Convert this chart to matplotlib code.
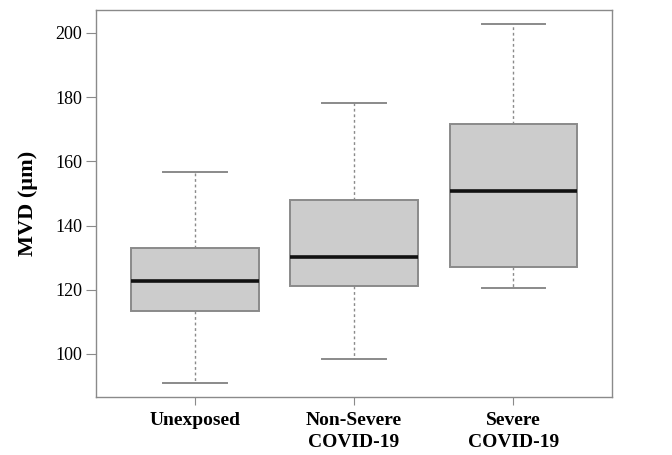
import matplotlib.pyplot as plt

# Box statistics (MVD in um)
groups = ['Unexposed', 'Non-Severe\nCOVID-19', 'Severe\nCOVID-19']
whisker_low = [91.0, 98.3, 120.5]
q1 = [113.4, 121.2, 127.1]
median = [122.6, 130.1, 150.9]
q3 = [132.9, 148.0, 171.7]
whisker_high = [156.6, 178.2, 202.9]
y_ticks = [100, 120, 140, 160, 180, 200]

plt.rcParams['font.family'] = ['Liberation Serif', 'DejaVu Serif']

stats = []
for i in range(len(groups)):
    stats.append({'whislo': whisker_low[i], 'q1': q1[i], 'med': median[i],
                  'q3': q3[i], 'whishi': whisker_high[i], 'fliers': []})

fig = plt.figure(figsize=(6.72, 4.55), dpi=100)
ax = fig.add_axes([0.1429, 0.1275, 0.768, 0.8515])

grey = '#8a8a8a'
ax.bxp(stats, positions=[1, 2, 3], widths=0.8, patch_artist=True,
       showfliers=False,
       boxprops=dict(facecolor='#cccccc', edgecolor=grey, linewidth=1.4),
       medianprops=dict(color='#111111', linewidth=2.6),
       whiskerprops=dict(color=grey, linewidth=1.0, linestyle=(0, (2, 2))),
       capprops=dict(color=grey, linewidth=1.4),
       capwidths=0.4)

ax.set_xlim(0.38, 3.62)
ax.set_ylim(86.6, 207.3)
ax.set_yticks(y_ticks)
ax.set_xticks([1, 2, 3])
ax.set_xticklabels(groups, fontsize=14, fontweight='bold', linespacing=1.35)

for spine in ax.spines.values():
    spine.set_color(grey)
    spine.set_linewidth(1.0)

ax.tick_params(axis='y', labelsize=13, length=7, color=grey, pad=3)
ax.tick_params(axis='x', length=6, color=grey, pad=5)

ax.set_ylabel('MVD (µm)', fontsize=16, fontweight='bold', labelpad=12)

fig.savefig('out.png', dpi=100)
